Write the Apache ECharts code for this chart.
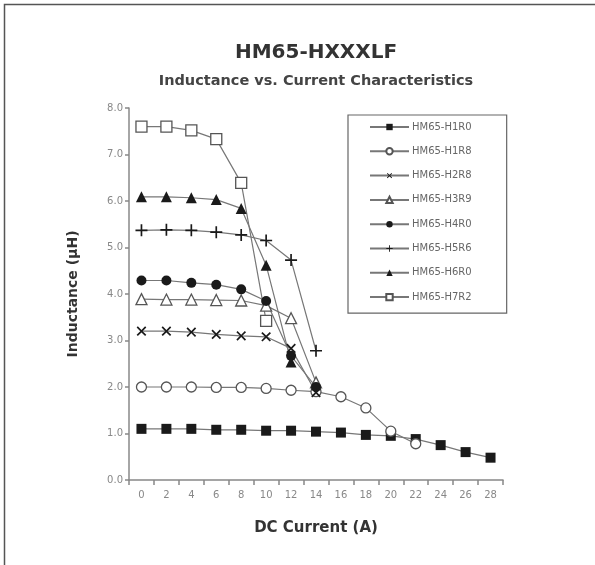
<!DOCTYPE html>
<html>
<head>
<meta charset="utf-8">
<script src="https://cdn.jsdelivr.net/npm/echarts@6/dist/echarts.min.js"></script>
<style>html,body{margin:0;padding:0;background:#fff}#c{width:595px;height:565px}</style>
</head>
<body>
<div id="c"></div>
<script>
var currents = ['0','2','4','6','8','10','12','14','16','18','20','22','24','26','28'];
var yTicks = [0, 1, 2, 3, 4, 5, 6, 7, 8];
var seriesNames = ['HM65-H1R0','HM65-H1R8','HM65-H2R8','HM65-H3R9','HM65-H4R0','HM65-H5R6','HM65-H6R0','HM65-H7R2'];
var h1r0 = [1.10, 1.10, 1.10, 1.08, 1.08, 1.06, 1.06, 1.04, 1.02, 0.97, 0.95, 0.88, 0.75, 0.60, 0.48];
var h1r8 = [2.00, 2.00, 2.00, 1.99, 1.99, 1.97, 1.93, 1.90, 1.79, 1.55, 1.05, 0.78];
var h2r8 = [3.20, 3.20, 3.18, 3.13, 3.10, 3.08, 2.83, 1.88];
var h3r9 = [3.89, 3.88, 3.88, 3.87, 3.86, 3.75, 3.48, 2.10];
var h4r0 = [4.29, 4.29, 4.24, 4.20, 4.10, 3.85, 2.67, 2.00];
var h5r6 = [5.37, 5.38, 5.37, 5.33, 5.27, 5.15, 4.73, 2.78];
var h6r0 = [6.09, 6.09, 6.07, 6.03, 5.84, 4.62, 2.54];
var h7r2 = [7.60, 7.60, 7.52, 7.33, 6.39, 3.42];

var plusPath = 'path://M4.3,0 L5.7,0 L5.7,4.3 L10,4.3 L10,5.7 L5.7,5.7 L5.7,10 L4.3,10 L4.3,5.7 L0,5.7 L0,4.3 L4.3,4.3 Z';
var LINE = '#777';
var DARK = '#1a1a1a';

function mk(name, data, symbol, size, filled, rotate) {
  return {
    name: name, type: 'line', data: data, symbol: symbol, symbolSize: size,
    symbolRotate: rotate || 0,
    showAllSymbol: true,
    lineStyle: { color: LINE, width: 1.2 },
    itemStyle: filled ? { color: DARK, borderColor: DARK, borderWidth: 0 } :
                        { color: '#fff', borderColor: '#555', borderWidth: 1.3 },
    emphasis: { disabled: true },
    animation: false
  };
}

var chart = echarts.init(document.getElementById('c'));
chart.setOption({
  animation: false,
  backgroundColor: '#fff',
  graphic: [
    { type: 'polyline', shape: { points: [[4.5, 565], [4.5, 4.5], [595, 4.5]] }, style: { stroke: '#555', lineWidth: 1.5, fill: null } }
  ],
  title: [
    { text: 'HM65-HXXXLF', left: 311, top: 38, textAlign: 'center',
      textStyle: { fontFamily: 'DejaVu Sans', fontSize: 20, fontWeight: 'bold', color: '#333' } },
    { text: 'Inductance vs. Current Characteristics', left: 311, top: 69, textAlign: 'center',
      textStyle: { fontFamily: 'DejaVu Sans', fontSize: 14.5, fontWeight: 'bold', color: '#444' } }
  ],
  legend: {
    orient: 'vertical', left: 348, top: 115,
    data: seriesNames,
    itemWidth: 39, itemHeight: 8, itemGap: 14.3,
    padding: [7, 35, 11, 21],
    borderColor: '#666', borderWidth: 1.2,
    textStyle: { fontFamily: 'DejaVu Sans', fontSize: 10, color: '#666', padding: [0, 0, 0, -2] },
    selectedMode: false
  },
  grid: { left: 129, right: 92, top: 108, bottom: 85, containLabel: false },
  xAxis: {
    type: 'category', data: currents, boundaryGap: true,
    name: 'DC Current (A)', nameLocation: 'middle', nameGap: 41,
    nameTextStyle: { fontFamily: 'DejaVu Sans', fontSize: 15, fontWeight: 'bold', color: '#333' },
    axisLine: { lineStyle: { color: '#888', width: 1.5 } },
    axisTick: { show: true, length: 5, lineStyle: { color: '#888', width: 1.5 } },
    axisLabel: { fontFamily: 'DejaVu Sans', fontSize: 10, color: '#888', margin: 10 },
    splitLine: { show: false }
  },
  yAxis: {
    type: 'value', min: 0, max: 8, interval: 1,
    name: 'Inductance (µH)', nameLocation: 'middle', nameGap: 49, nameRotate: 90,
    nameTextStyle: { fontFamily: 'DejaVu Sans', fontSize: 14, fontWeight: 'bold', color: '#333' },
    axisLine: { show: true, lineStyle: { color: '#888', width: 1.5 } },
    axisTick: { show: true, length: 4, lineStyle: { color: '#888', width: 1.5 } },
    axisLabel: { fontFamily: 'DejaVu Sans', fontSize: 10, color: '#888', margin: 6,
      formatter: function (v) { return yTicks.indexOf(v) >= 0 ? v.toFixed(1) : ''; } },
    splitLine: { show: false }
  },
  series: [
    mk(seriesNames[0], h1r0, 'rect', 10, true),
    mk(seriesNames[1], h1r8, 'circle', 10, false),
    mk(seriesNames[2], h2r8, plusPath, 12, true, 45),
    mk(seriesNames[3], h3r9, 'triangle', 11, false),
    mk(seriesNames[4], h4r0, 'circle', 10, true),
    mk(seriesNames[5], h5r6, plusPath, 12, true),
    mk(seriesNames[6], h6r0, 'triangle', 11, true),
    mk(seriesNames[7], h7r2, 'rect', 11, false)
  ]
});
</script>
</body>
</html>
